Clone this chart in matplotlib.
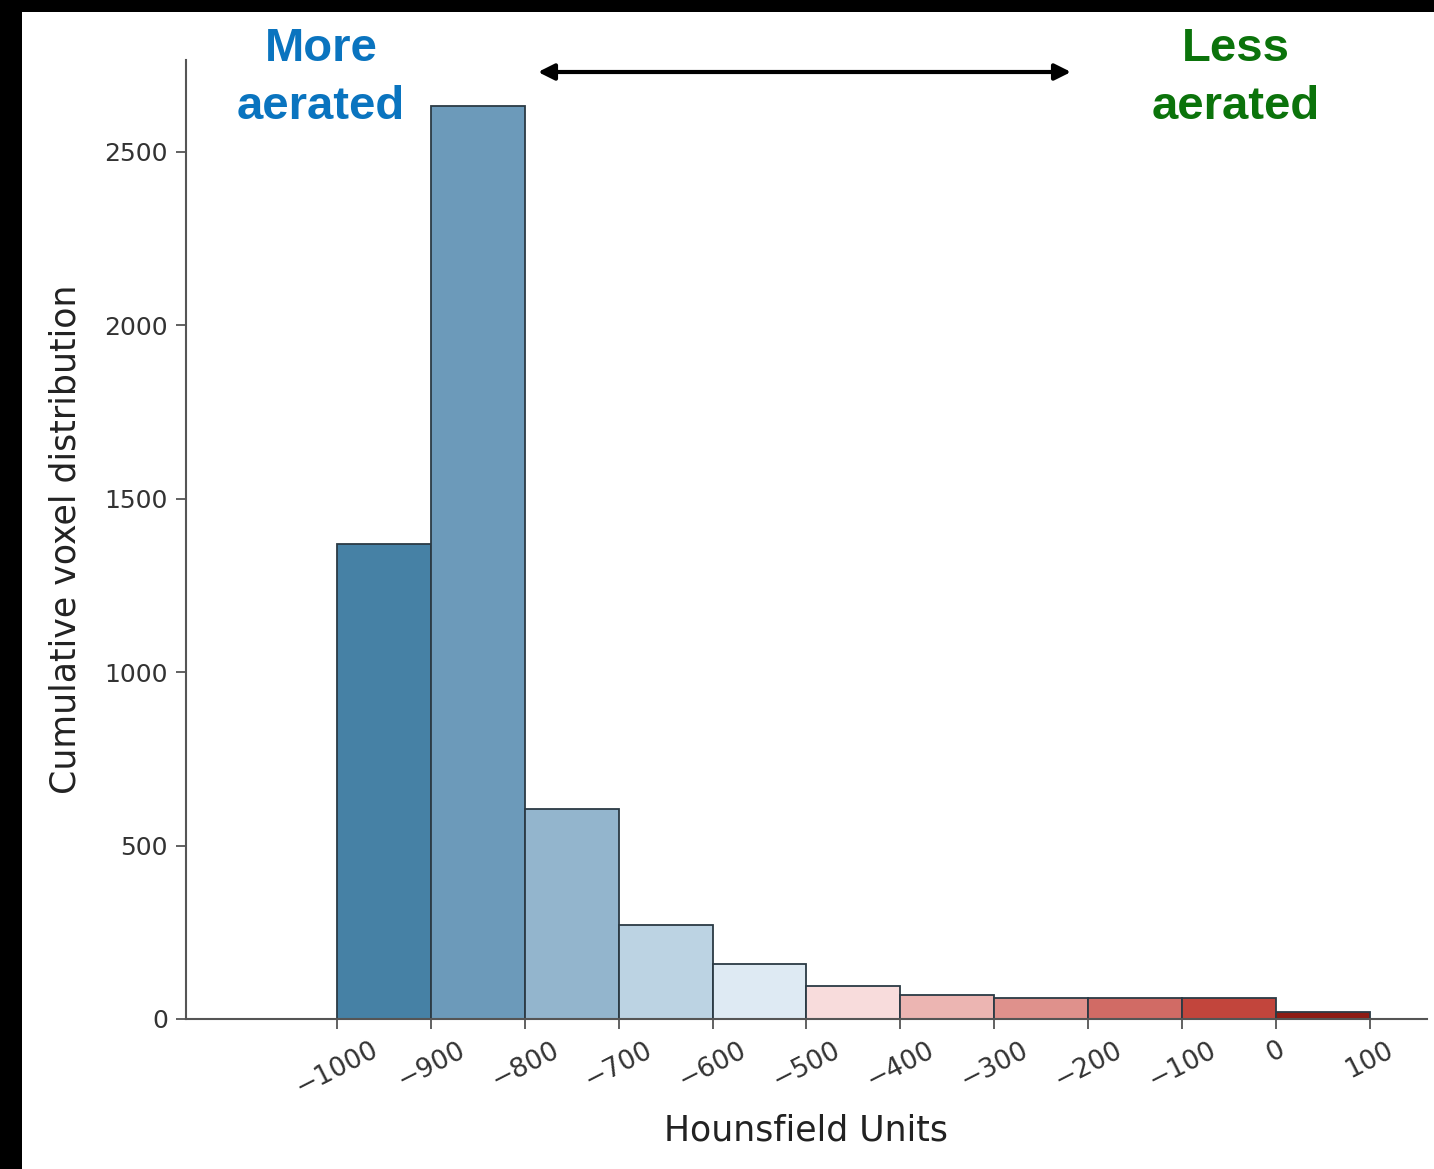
import matplotlib.pyplot as plt
from matplotlib.patches import Rectangle

# Histogram bins (Hounsfield units) and counts
bin_edges = [-1000, -900, -800, -700, -600, -500, -400, -300, -200, -100, 0, 100]
counts = [1370, 2633, 605, 271, 159, 95, 69, 60, 60, 60, 20]
bar_colors = ['#4681a5', '#6c9aba', '#93b5cd', '#bcd3e3', '#deeaf3',
              '#f8dcdc', '#ecb5b2', '#df918c', '#d16b65', '#c2453c', '#8e1c14']
tick_values = [-1000, -900, -800, -700, -600, -500, -400, -300, -200, -100, 0, 100]
y_ticks = [0, 500, 1000, 1500, 2000, 2500]

W, H = 1434, 1169
fig = plt.figure(figsize=(W / 100, H / 100), dpi=100, facecolor='black')

# white panel inside the black frame
fig.patches.append(Rectangle((22 / W, 0), 1 - 22 / W, 1 - 12 / H,
                             transform=fig.transFigure, facecolor='white',
                             edgecolor='none', zorder=-1))

ax = fig.add_axes([186 / W, 1 - 1019 / H, (1427 - 186) / W, (1019 - 60) / H])
ax.set_facecolor('white')

lefts = bin_edges[:-1]
widths = [bin_edges[i + 1] - bin_edges[i] for i in range(len(lefts))]
ax.bar(lefts, counts, width=widths, align='edge', color=bar_colors,
       edgecolor='#2b3a44', linewidth=1.3, zorder=2)

ax.set_xlim(-1161, 161)
ax.set_ylim(0, 2765)
ax.set_xticks(tick_values)
ax.set_xticklabels([str(v).replace('-', '\u2212') for v in tick_values],
                   rotation=27, fontsize=19, color='#333333')
ax.set_yticks(y_ticks)
ax.set_yticklabels([str(v) for v in y_ticks], fontsize=18, color='#333333')

for side in ['top', 'right']:
    ax.spines[side].set_visible(False)
for side in ['left', 'bottom']:
    ax.spines[side].set_color('#555555')
    ax.spines[side].set_linewidth(1.5)
ax.tick_params(axis='both', length=7, width=1.3, color='#555555', pad=6)

ax.set_xlabel('Hounsfield Units', fontsize=25, color='#222222', labelpad=9)
ax.set_ylabel('Cumulative voxel distribution', fontsize=25, color='#222222', labelpad=16)

# annotations above the plot
fig.text(321 / W, 1 - 49 / H, 'More', ha='center', va='center', fontsize=34,
         fontweight='bold', color='#0a74bf', family='Liberation Sans')
fig.text(321 / W, 1 - 107 / H, 'aerated', ha='center', va='center', fontsize=34,
         fontweight='bold', color='#0a74bf', family='Liberation Sans')
fig.text(1236 / W, 1 - 49 / H, 'Less', ha='center', va='center', fontsize=34,
         fontweight='bold', color='#0b730b', family='Liberation Sans')
fig.text(1236 / W, 1 - 107 / H, 'aerated', ha='center', va='center', fontsize=34,
         fontweight='bold', color='#0b730b', family='Liberation Sans')
ax.annotate('', xy=(1071 / W, 1 - 72 / H), xytext=(538 / W, 1 - 72 / H),
            xycoords='figure fraction', textcoords='figure fraction',
            arrowprops=dict(arrowstyle='<|-|>', color='black', lw=3,
                            mutation_scale=24, shrinkA=0, shrinkB=0))

fig.savefig('out.png', dpi=100, facecolor='black')
